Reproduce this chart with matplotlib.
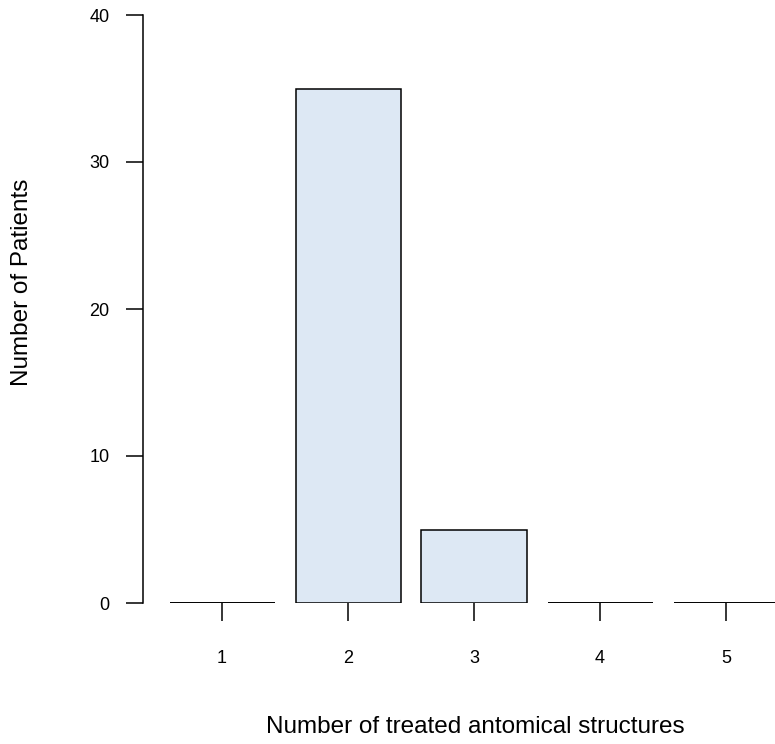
import matplotlib
matplotlib.use("Agg")
import matplotlib.pyplot as plt

plt.rcParams['font.family'] = ['Liberation Sans', 'DejaVu Sans']

categories = ["1", "2", "3", "4", "5"]
patients = [0, 35, 5, 0, 0]
yticks = [0, 10, 20, 30, 40]

W, H = 775, 744
fig = plt.figure(figsize=(W / 100, H / 100), dpi=100)
left, right, bottom, top = 143, 775, 603, 15
ax = fig.add_axes([left / W, (H - bottom) / H, (right - left) / W, (bottom - top) / H])

x = list(range(1, len(categories) + 1))
ax.bar(x, patients, width=1 / 1.2, color="#dde8f4", edgecolor="black", linewidth=1.1)
# zero-height bars still show their baseline edge
for xi, v in zip(x, patients):
    if v == 0:
        ax.plot([xi - 0.5 / 1.2, xi + 0.5 / 1.2], [0, 0], color="black", linewidth=1.3,
                solid_capstyle="butt")

ax.set_xlim(1 - (222 - 143) / 126, 1 + (775 - 222) / 126)
ax.set_ylim(0, 40)

for s in ["top", "right", "bottom"]:
    ax.spines[s].set_visible(False)
ax.spines["left"].set_linewidth(1.1)
ax.spines["left"].set_bounds(0, 40)

ax.set_xticks(x)
ax.set_xticklabels(categories)
ax.set_yticks(yticks)
ax.set_yticklabels([str(v) for v in yticks])
ax.tick_params(axis="x", length=13, width=1.1, pad=21, labelsize=13)
ax.tick_params(axis="y", length=12, width=1.1, pad=12, labelsize=13)

fig.text(475 / W, (H - 727) / H, "Number of treated antomical structures", ha="center", va="center",
         fontsize=17.5)
fig.text(22 / W, (H - 282) / H, "Number of Patients", ha="center", va="center", rotation=90,
         fontsize=17.5)

fig.savefig("out.png", dpi=100)
